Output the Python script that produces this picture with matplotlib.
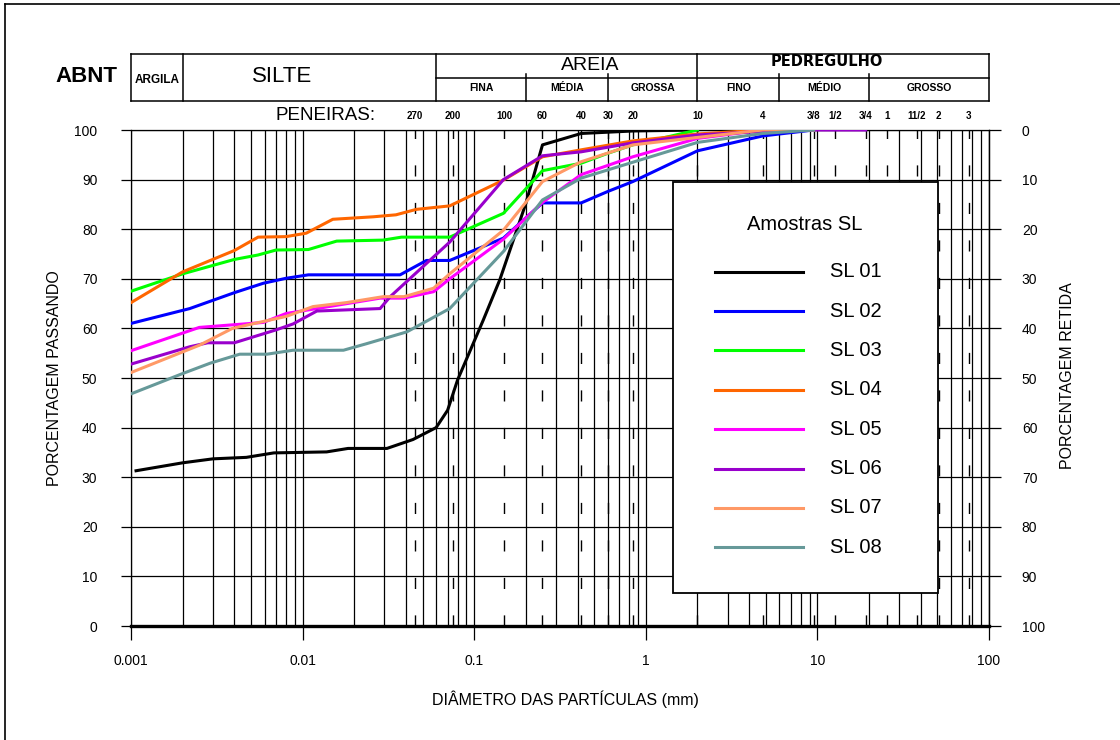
import matplotlib
matplotlib.use("Agg")
import matplotlib.pyplot as plt
from matplotlib.ticker import FixedLocator, NullFormatter
from matplotlib.transforms import blended_transform_factory
from matplotlib.lines import Line2D
from matplotlib.patches import Rectangle

plt.rcParams['font.family'] = ['Liberation Sans', 'DejaVu Sans']
plt.rcParams['lines.scale_dashes'] = False

# ---------------- data ----------------
series_names = ['SL 01', 'SL 02', 'SL 03', 'SL 04', 'SL 05', 'SL 06', 'SL 07', 'SL 08']
series_colors = ['#000000', '#0000FF', '#00FF00', '#FF6600', '#FF00FF', '#9900CC', '#FF9966', '#669999']

sl01_d = [0.00107, 0.002, 0.003, 0.0047, 0.0068, 0.0138, 0.0184, 0.031, 0.044, 0.06, 0.07, 0.08, 0.113, 0.141, 0.2, 0.25, 0.42, 0.84, 2.0]
sl01_p = [31.3, 32.9, 33.7, 34.0, 34.9, 35.1, 35.8, 35.8, 37.6, 40.0, 43.5, 49.6, 61.7, 69.8, 85.2, 97.0, 99.3, 99.8, 100]

sl02_d = [0.001, 0.0022, 0.004, 0.0059, 0.008, 0.0108, 0.037, 0.0527, 0.072, 0.148, 0.25, 0.42, 0.6, 0.84, 2.0, 4.8, 9.5]
sl02_p = [61.0, 64.0, 67.2, 69.1, 70.1, 70.8, 70.8, 73.7, 73.7, 78.2, 85.3, 85.3, 87.6, 89.6, 95.8, 98.8, 100]

sl03_d = [0.001, 0.002, 0.004, 0.0055, 0.007, 0.0108, 0.0158, 0.0294, 0.0377, 0.072, 0.148, 0.25, 0.42, 0.6, 0.84, 2.0]
sl03_p = [67.5, 71.0, 73.9, 74.8, 75.8, 75.9, 77.6, 77.8, 78.4, 78.4, 83.2, 91.8, 93.3, 95.3, 97.0, 100]

sl04_d = [0.001, 0.002, 0.004, 0.0055, 0.008, 0.0105, 0.015, 0.0258, 0.035, 0.046, 0.072, 0.148, 0.25, 0.42, 0.84, 2.0, 4.8]
sl04_p = [65.2, 71.4, 75.7, 78.4, 78.5, 79.2, 82.0, 82.5, 82.9, 84.0, 84.7, 89.9, 94.6, 96.0, 97.8, 99.2, 100]

sl05_d = [0.001, 0.0025, 0.0059, 0.008, 0.0121, 0.0283, 0.0388, 0.058, 0.072, 0.148, 0.25, 0.42, 0.84, 2.0, 4.8]
sl05_p = [55.5, 60.2, 61.2, 63.0, 64.0, 66.1, 66.1, 67.4, 70.0, 78.0, 85.4, 91.0, 94.6, 98.3, 100]

sl06_d = [0.001, 0.0022, 0.0028, 0.004, 0.007, 0.0088, 0.0121, 0.0283, 0.0324, 0.072, 0.148, 0.25, 0.42, 0.84, 2.0, 4.8, 9.5, 19.1]
sl06_p = [52.8, 56.3, 57.1, 57.1, 59.7, 60.9, 63.5, 64.0, 66.4, 77.4, 90.0, 94.8, 95.6, 97.4, 99.0, 99.7, 100, 100]

sl07_d = [0.001, 0.0025, 0.0039, 0.0059, 0.008, 0.0115, 0.018, 0.0295, 0.039, 0.058, 0.072, 0.148, 0.25, 0.42, 0.84, 2.0, 4.8, 9.5]
sl07_p = [51.1, 56.6, 60.0, 61.4, 62.4, 64.4, 65.2, 66.4, 66.4, 68.1, 71.0, 79.8, 89.6, 93.6, 97.0, 98.5, 100, 100]

sl08_d = [0.001, 0.002, 0.0029, 0.0043, 0.0062, 0.0088, 0.0173, 0.0235, 0.0405, 0.072, 0.148, 0.25, 0.42, 0.84, 2.0, 4.8, 9.5]
sl08_p = [46.8, 50.9, 53.0, 54.8, 54.8, 55.6, 55.6, 56.9, 59.3, 64.0, 75.5, 85.9, 90.3, 93.5, 97.5, 99.3, 100]

series_d = [sl01_d, sl02_d, sl03_d, sl04_d, sl05_d, sl06_d, sl07_d, sl08_d]
series_p = [sl01_p, sl02_p, sl03_p, sl04_p, sl05_p, sl06_p, sl07_p, sl08_p]

x_ticks = [0.001, 0.01, 0.1, 1, 10, 100]
x_tick_labels = ['0.001', '0.01', '0.1', '1', '10', '100']
y_ticks = [0, 10, 20, 30, 40, 50, 60, 70, 80, 90, 100]

sieve_labels = ['270', '200', '100', '60', '40', '30', '20', '10', '4', '3/8', '1/2', '3/4', '1', '11/2', '2', '3']
sieve_d = [0.045, 0.075, 0.15, 0.25, 0.42, 0.6, 0.84, 2.0, 4.8, 9.5, 12.7, 19.1, 25.4, 38.1, 50.8, 76.2]

# ABNT classes
main_bounds = [0.001, 0.002, 0.06, 2.0, 100]
sand_bounds = [0.06, 0.2, 0.6, 2.0]
sand_labels = ['FINA', 'MÉDIA', 'GROSSA']
gravel_bounds = [2.0, 6.0, 20.0, 100]
gravel_labels = ['FINO', 'MÉDIO', 'GROSSO']

# ---------------- figure ----------------
W, H = 1120, 740
fig = plt.figure(figsize=(W / 100, H / 100), dpi=100)


def fx(x):
    return x / W


def fy(y):
    return 1 - y / H


ax = fig.add_axes([fx(131), fy(626), (989 - 131) / W, (626 - 130) / H])
ax.set_xscale('log')
ax.set_xlim(0.001, 100)
ax.set_ylim(0, 100)

# grid
minor = [m * 10.0 ** k for k in range(-3, 2) for m in range(2, 10)]
ax.xaxis.set_major_locator(FixedLocator(x_ticks))
ax.xaxis.set_minor_locator(FixedLocator(minor))
ax.xaxis.set_minor_formatter(NullFormatter())
ax.set_xticklabels(x_tick_labels)
ax.yaxis.set_major_locator(FixedLocator(y_ticks))
ax.grid(which='both', axis='x', color='black', lw=0.9)
ax.grid(which='major', axis='y', color='black', lw=0.9)
ax.set_axisbelow(True)

# dashed sieve lines
for d in sieve_d:
    ax.plot([d, d], [0, 100], color='black', lw=1.0,
            linestyle=(0, (8, 19)), zorder=1.5)

for d, p, c in zip(series_d, series_p, series_colors):
    ax.plot(d, p, color=c, lw=2.2, zorder=3, solid_joinstyle='round')

ax.tick_params(axis='x', which='major', direction='out', length=10, width=0.9,
               pad=10.5, labelsize=10)
ax.tick_params(axis='x', which='minor', length=0)
ax.tick_params(axis='y', which='major', direction='out', length=7.2, width=0.9,
               pad=17, labelsize=10)
for s in ['left', 'right', 'top']:
    ax.spines[s].set_linewidth(0.9)
ax.spines['bottom'].set_linewidth(2.4)

ax2 = ax.twinx()
ax2.set_ylim(100, 0)
ax2.yaxis.set_major_locator(FixedLocator(y_ticks))
ax2.tick_params(axis='y', direction='out', length=8.6, width=0.9, pad=15, labelsize=10)
for s in ['left', 'top', 'bottom']:
    ax2.spines[s].set_visible(False)
ax2.spines['right'].set_linewidth(0.9)

# axis titles
fig.text(fx(55), fy(378), 'PORCENTAGEM PASSANDO', rotation=90, ha='center', va='center', fontsize=11.5)
fig.text(fx(1068), fy(376), 'PORCENTAGEM RETIDA', rotation=90, ha='center', va='center', fontsize=11.5)
fig.text(fx(565), fy(699), 'DIÂMETRO DAS PARTÍCULAS (mm)', ha='center', va='center', fontsize=11.5)

# ---------------- header (ABNT classification) ----------------
tr = blended_transform_factory(ax.transData, fig.transFigure)
hl = dict(color='black', lw=1.1, transform=tr)


def hline(x0, x1, y):
    fig.add_artist(Line2D([x0, x1], [fy(y), fy(y)], **hl))


def vline(x, y0, y1):
    fig.add_artist(Line2D([x, x], [fy(y0), fy(y1)], **hl))


top_y, mid_y, bot_y = 54, 78, 101
hline(main_bounds[0], main_bounds[-1], top_y)
hline(main_bounds[0], main_bounds[-1], bot_y)
hline(main_bounds[2], main_bounds[-1], mid_y)
for b in main_bounds:
    vline(b, top_y, bot_y)
for b in sand_bounds[1:-1] + gravel_bounds[1:-1]:
    vline(b, mid_y - 4, bot_y)


def gmean(a, b):
    return (a * b) ** 0.5


for i, lab in enumerate(sand_labels):
    fig.text(gmean(sand_bounds[i], sand_bounds[i + 1]), fy(88), lab, transform=tr,
             ha='center', va='center', fontsize=7.5, fontweight='bold')
for i, lab in enumerate(gravel_labels):
    fig.text(gmean(gravel_bounds[i], gravel_bounds[i + 1]), fy(88), lab, transform=tr,
             ha='center', va='center', fontsize=7.5, fontweight='bold')

fig.text(fx(86), fy(77), 'ABNT', ha='center', va='center', fontsize=16, fontweight='bold')
fig.text(gmean(main_bounds[0], main_bounds[1]), fy(80), 'ARGILA', transform=tr,
         ha='center', va='center', fontsize=8.5, fontweight='bold')
fig.text(fx(282), fy(76), 'SILTE', ha='center', va='center', fontsize=16)
fig.text(fx(590), fy(65), 'AREIA', ha='center', va='center', fontsize=14)
fig.text(fx(827), fy(61.5), 'PEDREGULHO', ha='center', va='center', fontsize=10.5,
         fontweight='bold', family=['DejaVu Sans'])

fig.text(fx(326), fy(115), 'PENEIRAS:', ha='center', va='center', fontsize=13.5)
for d, lab in zip(sieve_d, sieve_labels):
    fig.text(d, fy(116), lab, transform=tr, ha='center', va='center', fontsize=7, fontweight='bold')

# ---------------- legend ----------------
fig.add_artist(Rectangle((fx(673), fy(593)), (938 - 673) / W, (593 - 182) / H,
                         transform=fig.transFigure, facecolor='white', edgecolor='black',
                         lw=1.3, zorder=5))
fig.text(fx(805), fy(225), 'Amostras SL', ha='center', va='center', fontsize=14.5, zorder=7)
for i, (name, c) in enumerate(zip(series_names, series_colors)):
    yy = 271.7 + i * 39.37
    fig.add_artist(Line2D([fx(715), fx(803)], [fy(yy), fy(yy)], color=c, lw=2.2,
                          transform=fig.transFigure, zorder=6))
    fig.text(fx(830), fy(yy), name, ha='left', va='center', fontsize=14.5, zorder=7)

# outer frame
fig.add_artist(Line2D([fx(5), fx(5)], [fy(4), fy(745)], color='black', lw=1.2,
                      transform=fig.transFigure))
fig.add_artist(Line2D([fx(5), fx(1125)], [fy(4), fy(4)], color='black', lw=1.2,
                      transform=fig.transFigure))

fig.savefig('out.png', dpi=100)
